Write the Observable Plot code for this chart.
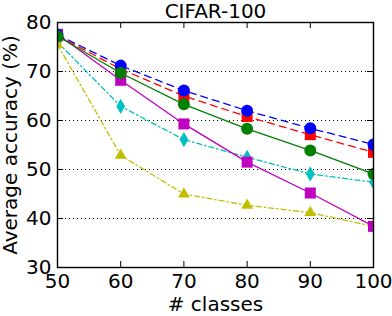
<!DOCTYPE html>
<html><head><meta charset="utf-8">
<script src="https://cdn.jsdelivr.net/npm/d3@7"></script>
<script src="https://cdn.jsdelivr.net/npm/@observablehq/plot@0.6"></script>
<style>html,body{margin:0;padding:0;background:#fff}#chart{width:392px;height:316px}</style>
</head><body><div id="chart"></div>
<script>
const classes = [50, 60, 70, 80, 90, 100];
const seriesBlue    = [77.5, 71.2, 66.1, 62.0, 58.4, 55.1];
const seriesRed     = [77.3, 70.5, 65.0, 60.8, 57.1, 53.5];
const seriesGreen   = [77.2, 69.7, 63.3, 58.3, 53.9, 49.1];
const seriesCyan    = [76.0, 62.9, 56.1, 52.5, 49.1, 47.4];
const seriesYellow  = [75.5, 52.9, 45.0, 42.7, 41.2, 38.4];
const seriesMagenta = [77.6, 68.2, 59.3, 51.5, 45.2, 38.4];
const xTicks = [50, 60, 70, 80, 90, 100];
const yTicks = [30, 40, 50, 60, 70, 80];
const gridValues = [40, 50, 60, 70];
const titleText = "CIFAR-100";
const xLabel = "# classes";
const yLabel = "Average accuracy (%)";

const W = 392, H = 316;
const mL = 57, mR = 19, mT = 22, mB = 49;
const fw = W - mL - mR, fh = H - mT - mB;
const tick = 6;
const font = "DejaVu Sans";

const toRows = vals => classes.map((c, i) => ({classes: c, acc: vals[i]}));

const series = [
  {vals: seriesCyan, color: "#00bfbf", dash: "5,3,1.5,3", symbol: "diamond", r: 4.6},
  {vals: seriesYellow, color: "#bfbf00", dash: "5,3,1.5,3", symbol: "triangle", r: 4.4},
  {vals: seriesMagenta, color: "#bf00bf", dash: null, symbol: "square", r: 6.2},
  {vals: seriesRed, color: "#ff0000", dash: "7,5", symbol: "square", r: 6.2},
  {vals: seriesBlue, color: "#0000ff", dash: "7,5", symbol: "circle", r: 6},
  {vals: seriesGreen, color: "#008000", dash: null, symbol: "circle", r: 6}
];

const seriesMarks = series.flatMap(s => [
  Plot.line(toRows(s.vals), {x: "classes", y: "acc", stroke: s.color, strokeWidth: 1.3,
    strokeDasharray: s.dash, clip: true}),
  Plot.dot(toRows(s.vals), {x: "classes", y: "acc", fill: s.color, stroke: "none",
    symbol: s.symbol, r: s.r, clip: true})
]);

const chart = Plot.plot({
  width: W, height: H,
  marginLeft: mL, marginRight: mR, marginTop: mT, marginBottom: mB,
  style: {fontFamily: font, fontSize: "20px", background: "#fff", color: "black", overflow: "visible"},
  x: {domain: [50, 100]},
  y: {domain: [30, 80]},
  marks: [
    Plot.ruleY(gridValues, {stroke: "black", strokeWidth: 1, strokeDasharray: "1,3"}),
    ...seriesMarks,
    Plot.tickX(xTicks, {x: d => d, stroke: "black", insetTop: fh - tick}),
    Plot.tickX(xTicks, {x: d => d, stroke: "black", insetBottom: fh - tick}),
    Plot.tickY(yTicks, {y: d => d, stroke: "black", insetRight: fw - tick}),
    Plot.tickY(yTicks, {y: d => d, stroke: "black", insetLeft: fw - tick}),
    Plot.frame({stroke: "black", strokeWidth: 1.4}),
    Plot.axisX({ticks: xTicks, tickSize: 0, tickPadding: 6, fontSize: 20, label: null, fill: "black"}),
    Plot.axisY({ticks: yTicks, tickSize: 0, tickPadding: 6, fontSize: 20, label: null, fill: "black"}),
    Plot.text([titleText], {frameAnchor: "top", dy: -5, lineAnchor: "bottom", textAnchor: "middle", fontSize: 20, fill: "black", text: d => d}),
    Plot.text([xLabel], {frameAnchor: "bottom", dy: 43, lineAnchor: "bottom", textAnchor: "middle", fontSize: 20, fill: "black", text: d => d}),
    Plot.text([yLabel], {frameAnchor: "left", dx: -41, rotate: -90, lineAnchor: "bottom", textAnchor: "middle", fontSize: 20, fill: "black", text: d => d})
  ]
});
document.getElementById("chart").appendChild(chart);
</script>
</body></html>
